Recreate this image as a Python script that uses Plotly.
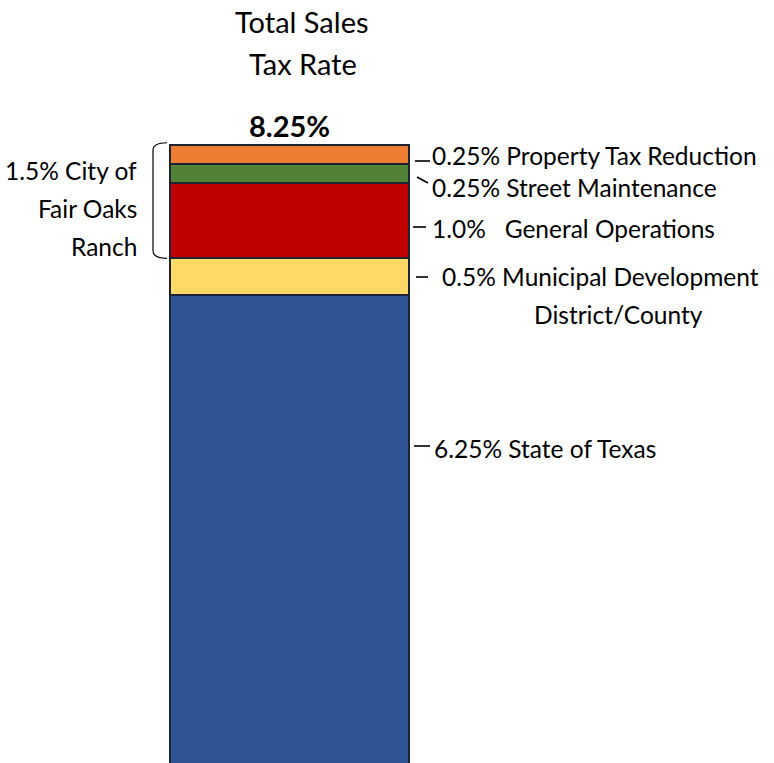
import plotly.graph_objects as go

# ── DATA ──────────────────────────────────────────────────────────
components = ["State of Texas", "Municipal Development District/County",
              "General Operations", "Street Maintenance", "Property Tax Reduction"]
rates = [6.25, 0.5, 1.0, 0.25, 0.25]
colors = ["#2F5597", "#FFD966", "#C00000", "#538135", "#ED7D31"]
label_lines = [["6.25% State of Texas"],
               ["0.5% Municipal Development", "District/County"],
               ["1.0%   General Operations"],
               ["0.25% Street Maintenance"],
               ["0.25% Property Tax Reduction"]]
city_lines = ["1.5% City of", "Fair Oaks", "Ranch"]
title_lines = ["Total Sales", "Tax Rate"]

total = sum(rates)

# ── PIXEL GEOMETRY ────────────────────────────────────────────────
W, H = 774, 763
BAR_L, BAR_R = 170, 409
BAR_BOTTOM, BAR_TOP = 764, 145
ppu = (BAR_BOTTOM - BAR_TOP) / total
xpu = BAR_R - BAR_L
x_range = [-0.5 - BAR_L / xpu, 0.5 + (W - BAR_R) / xpu]
y_range = [(BAR_BOTTOM - H) / ppu, BAR_BOTTOM / ppu]


def X(px):
    return x_range[0] + px / W * (x_range[1] - x_range[0])


def Y(py):
    return (BAR_BOTTOM - py) / ppu


FONT = "Lato, 'Open Sans', sans-serif"
FS = 24.5
LINE_GAP = 38

fig = go.Figure()
for name, r, c in zip(components, rates, colors):
    fig.add_trace(go.Bar(
        x=[0], y=[r], width=1, name=name,
        marker=dict(color=c, line=dict(color="#1c2333", width=2)),
        showlegend=False, hoverinfo="name+y",
    ))

# label positions (pixels): text left x (per line), first line center y, leader line
label_pos = [
    ([432], 448, (414, 446, 430, 446)),
    ([440], 276, (416, 277, 428, 277)),
    ([430], 228, (413, 227, 426, 227)),
    ([430], 187, (417, 177, 428, 183)),
    ([430], 155, (415, 161, 430, 161)),
]

annotations = []
shapes = []


def text_ann(txt, px, py, anchor="left", size=FS, bold=False):
    annotations.append(dict(
        x=X(px), y=Y(py), xref="x", yref="y",
        text=f"<b>{txt}</b>" if bold else txt, showarrow=False,
        xanchor=anchor, yanchor="middle",
        font=dict(size=size, color="black", family=FONT),
    ))


for lines, (xs, ty, ln) in zip(label_lines, label_pos):
    text_ann(lines[0], xs[0], ty)
    for i, txt in enumerate(lines[1:], start=1):
        # continuation lines are centred under the first one, right-aligned
        annotations.append(dict(
            x=X(755), y=Y(ty + i * LINE_GAP), xref="x", yref="y", text=txt,
            showarrow=False, xanchor="right", yanchor="middle",
            xshift=-50, font=dict(size=FS, color="black", family=FONT)))
    shapes.append(dict(type="line", xref="x", yref="y",
                       x0=X(ln[0]), y0=Y(ln[1]), x1=X(ln[2]), y1=Y(ln[3]),
                       line=dict(color="black", width=1.6)))

# city bracket (spans the city's share: top three components)
city_top = total
city_bot = total - sum(rates[2:])
bx0, bx1 = X(153), X(167)
yt, yb = city_top + 0.03, city_bot - 0.01
r = 0.1
shapes.append(dict(
    type="path", xref="x", yref="y",
    path=(f"M {bx1} {yt} Q {bx0} {yt} {bx0} {yt - r} "
          f"L {bx0} {yb + r} Q {bx0} {yb} {bx1} {yb}"),
    line=dict(color="black", width=1.2),
))
for i, txt in enumerate(city_lines):
    text_ann(txt, 139, 170 + i * LINE_GAP, anchor="right")

# title + total
text_ann(title_lines[0], 302, 21, anchor="center", size=29)
text_ann(title_lines[1], 303, 63, anchor="center", size=29)
annotations.append(dict(
    x=0, y=total, xref="x", yref="y", text=f"<b>{total:.2f}%</b>",
    showarrow=False, xanchor="center", yanchor="bottom", yshift=0,
    font=dict(size=29, color="black", family=FONT)))

fig.update_layout(
    barmode="stack",
    width=W, height=H,
    margin=dict(l=0, r=0, t=0, b=0),
    plot_bgcolor="white", paper_bgcolor="white",
    xaxis=dict(range=x_range, visible=False, fixedrange=True),
    yaxis=dict(range=y_range, visible=False, fixedrange=True),
    annotations=annotations,
    shapes=shapes,
    font=dict(family=FONT, color="black"),
)

fig.write_html("out.html", config={"displayModeBar": False},
               post_script="document.body.style.margin='0';")
